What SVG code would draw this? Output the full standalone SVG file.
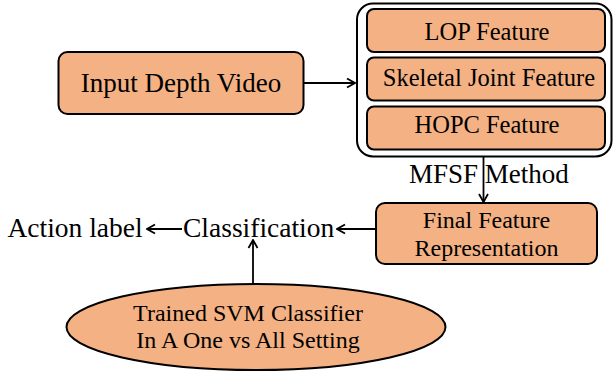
<svg xmlns="http://www.w3.org/2000/svg" width="614" height="373" viewBox="0 0 614 373">
<style>
.box{fill:#F4B183;stroke:#000;stroke-width:2}
.t{font-family:"Liberation Serif","Times New Roman",serif;fill:#000}
.c{stroke:#000;stroke-width:1.8;fill:none}
</style>
<defs>
<marker id="ah" viewBox="0 0 12 12" refX="11" refY="6" markerWidth="12" markerHeight="12" markerUnits="userSpaceOnUse" orient="auto">
<path d="M3,1.5 L11,6 L3,10.5" fill="none" stroke="#000" stroke-width="1.8"/>
</marker>
</defs>
<rect width="614" height="373" fill="#fff"/>
<g id="input">
<rect class="box" x="58.5" y="52" width="245" height="62" rx="9"/>
<text class="t" x="181" y="92" font-size="27" text-anchor="middle">Input Depth Video</text>
</g>
<g id="features">
<rect x="357" y="3.5" width="254.5" height="153" rx="16" fill="#fff" stroke="#000" stroke-width="2"/>
<g id="lop">
<rect class="box" x="367" y="9" width="238" height="43" rx="7"/>
<text class="t" x="487" y="40" font-size="24.5" text-anchor="middle">LOP Feature</text>
</g>
<g id="skeletal">
<rect class="box" x="367" y="57.5" width="238" height="43" rx="7"/>
<text class="t" x="489" y="86" font-size="24.5" text-anchor="middle">Skeletal Joint Feature</text>
</g>
<g id="hopc">
<rect class="box" x="367" y="106.5" width="238" height="43" rx="7"/>
<text class="t" x="487" y="133" font-size="24.5" text-anchor="middle">HOPC Feature</text>
</g>
</g>
<g id="final">
<rect class="box" x="376" y="203" width="221" height="61" rx="9"/>
<text class="t" x="486.5" y="228" font-size="24" text-anchor="middle">Final Feature</text>
<text class="t" x="486.5" y="256" font-size="24" text-anchor="middle">Representation</text>
</g>
<g id="classification">
<text class="t" x="183" y="237" font-size="27.5">Classification</text>
</g>
<g id="action">
<text class="t" x="7.5" y="237" font-size="27.5">Action label</text>
</g>
<g id="svm">
<ellipse class="box" cx="256" cy="327" rx="189.5" ry="43"/>
<text class="t" x="248" y="321" font-size="24" text-anchor="middle">Trained SVM Classifier</text>
<text class="t" x="248" y="348" font-size="24" text-anchor="middle">In A One vs All Setting</text>
</g>
<g id="connectors">
<line class="c" x1="304" y1="83" x2="355" y2="83" marker-end="url(#ah)"/>
<line class="c" x1="483.5" y1="157" x2="483.5" y2="202" marker-end="url(#ah)"/>
<text class="t" x="409" y="183" font-size="27">MFSF Method</text>
<line class="c" x1="376" y1="229" x2="337" y2="229" marker-end="url(#ah)"/>
<line class="c" x1="182" y1="229" x2="147" y2="229" marker-end="url(#ah)"/>
<line class="c" x1="253" y1="284" x2="253" y2="240" marker-end="url(#ah)"/>
</g>
</svg>
